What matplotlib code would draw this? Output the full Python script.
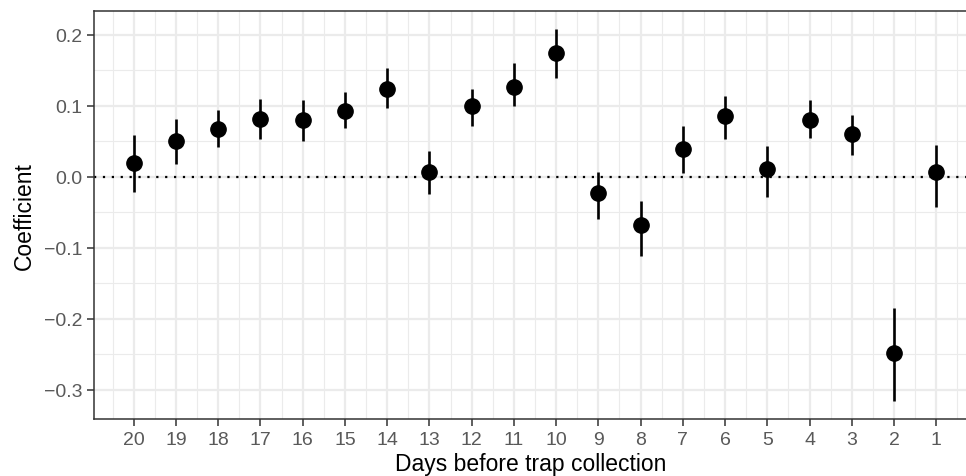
import matplotlib
matplotlib.use("Agg")
import matplotlib.pyplot as plt
from matplotlib.ticker import FixedLocator

days = [20, 19, 18, 17, 16, 15, 14, 13, 12, 11, 10, 9, 8, 7, 6, 5, 4, 3, 2, 1]
coef = [0.020, 0.050, 0.067, 0.081, 0.080, 0.093, 0.123, 0.006, 0.099, 0.127,
        0.174, -0.023, -0.068, 0.039, 0.085, 0.011, 0.080, 0.060, -0.248, 0.006]
lower = [-0.022, 0.018, 0.042, 0.053, 0.050, 0.068, 0.097, -0.025, 0.072, 0.100,
         0.139, -0.059, -0.111, 0.005, 0.053, -0.028, 0.054, 0.030, -0.316, -0.043]
upper = [0.059, 0.081, 0.094, 0.109, 0.108, 0.120, 0.153, 0.036, 0.124, 0.160,
         0.208, 0.006, -0.034, 0.071, 0.113, 0.043, 0.108, 0.087, -0.185, 0.045]
ytick_vals = [-0.3, -0.2, -0.1, 0.0, 0.1, 0.2]
ytick_labels = ["\u22120.3", "\u22120.2", "\u22120.1", "0.0", "0.1", "0.2"]

plt.rcParams['font.family'] = ['Liberation Sans', 'DejaVu Sans']

fig = plt.figure(figsize=(9.66, 4.77), dpi=100)
ax = fig.add_axes([94/966, 1 - 420.3/477, (968 - 94)/966, (420.3 - 12)/477])

ax.set_xlim(20.94, 0.25)
ax.set_ylim(-0.3417, 0.2334)

# grid
ax.xaxis.set_major_locator(FixedLocator(days))
ax.xaxis.set_minor_locator(FixedLocator([d + 0.5 for d in days] + [0.5]))
ax.set_yticks(ytick_vals)
ax.set_yticklabels(ytick_labels)
ax.yaxis.set_minor_locator(FixedLocator([-0.35, -0.25, -0.15, -0.05, 0.05, 0.15, 0.25]))
ax.grid(which='major', color='#EBEBEB', linewidth=1.6, zorder=0)
ax.grid(which='minor', color='#EBEBEB', linewidth=0.8, zorder=0)
ax.set_axisbelow(True)

ax.axhline(0, color='black', linewidth=1.6, linestyle=(0, (1, 3)), zorder=1)

for d, lo, hi in zip(days, lower, upper):
    ax.vlines(d, lo, hi, color='black', linewidth=1.9, zorder=2)
ax.plot(days, coef, 'o', color='black', markersize=11, zorder=3)

for s in ax.spines.values():
    s.set_color('#333333')
    s.set_linewidth(1.1)
ax.spines['right'].set_visible(False)

ax.tick_params(which='major', length=5, width=1.1, color='#333333',
               labelcolor='#595959', labelsize=14, pad=3.5)
ax.tick_params(which='minor', length=0)

ax.set_xticklabels([str(d) for d in days])
ax.set_xlabel("Days before trap collection", fontsize=16.5, color='black')
ax.set_ylabel("Coefficient", fontsize=16.5, color='black')
ax.xaxis.set_label_coords(0.5, -0.081)
ax.yaxis.set_label_coords(-0.066, 0.5)

fig.savefig("out.png", dpi=100)
